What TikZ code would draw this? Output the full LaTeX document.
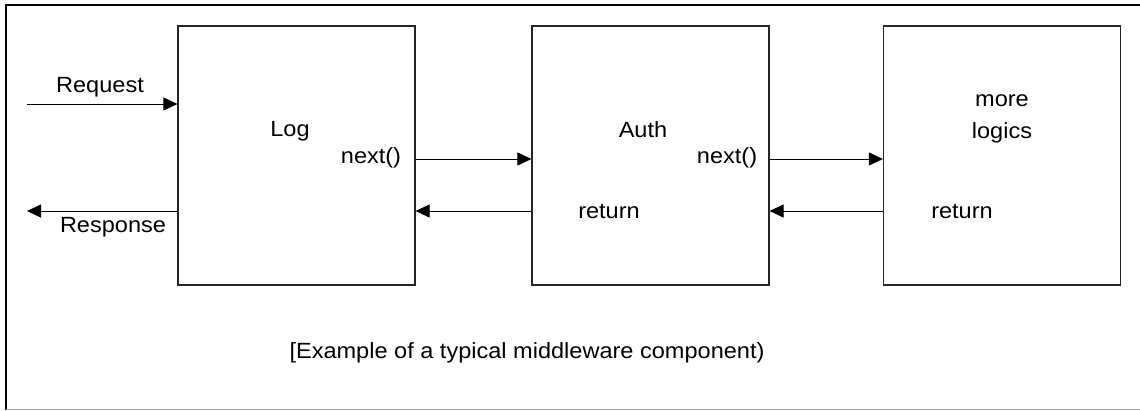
\documentclass[tikz,border=0pt]{standalone}
\usepackage{fontspec}
\setmainfont{Liberation Sans}[FakeStretch=1.07]
\usetikzlibrary{arrows.meta}
\begin{document}
\begin{tikzpicture}[x=1pt,y=-1pt,
  blk/.style={draw=black!85,line width=1.2pt,rectangle,minimum width=237pt,minimum height=259pt,inner sep=0pt},
  arr/.style={line width=1pt,-{Triangle[length=14pt,width=13pt]}},
  lbl/.style={inner sep=0pt,font=\fontsize{22pt}{32pt}\selectfont,anchor=center}]
\useasboundingbox (0,0) rectangle (1140,410);
\fill[white] (0,0) rectangle (1140,410);
% frame
\draw[line width=2.5pt,black] (1140,5) -- (6,5) -- (6,410);
\draw[line width=1pt,black!35] (6,409) -- (1140,409);
% boxes
\node[blk] (log) at (296.5,155.5) {};
\node[blk] (auth) at (650.5,155.5) {};
\node[blk] (more) at (1002,155.5) {};
% free ends
\coordinate (reqstart) at (27,104);
\coordinate (respend) at (27,211);
% arrows
\draw[arr] (reqstart) -- (log.west |- reqstart);
\draw[arr] (log.west |- respend) -- (respend);
\draw[arr] (log.east |- 0,159) -- (auth.west |- 0,159);
\draw[arr] (auth.west |- 0,211) -- (log.east |- 0,211);
\draw[arr] (auth.east |- 0,159) -- (more.west |- 0,159);
\draw[arr] (more.west |- 0,211) -- (auth.east |- 0,211);
% labels
\node[lbl] (reqlbl) at (100,87) {Request};
\node[lbl] (resplbl) at (113,227) {Response};
\node[lbl] (loglbl) at (290,131) {Log};
\node[lbl] (next1) at (371,158) {next()};
\node[lbl] (authlbl) at (643,130) {Auth};
\node[lbl] (ret1) at (609,211) {return};
\node[lbl] (next2) at (727,158) {next()};
\node[lbl,align=center] (morelbl) at (1002,118.5) {more\\logics};
\node[lbl] (ret2) at (962,211) {return};
\node[lbl] (caption) at (527,353) {[Example of a typical middleware component)};
\end{tikzpicture}
\end{document}
